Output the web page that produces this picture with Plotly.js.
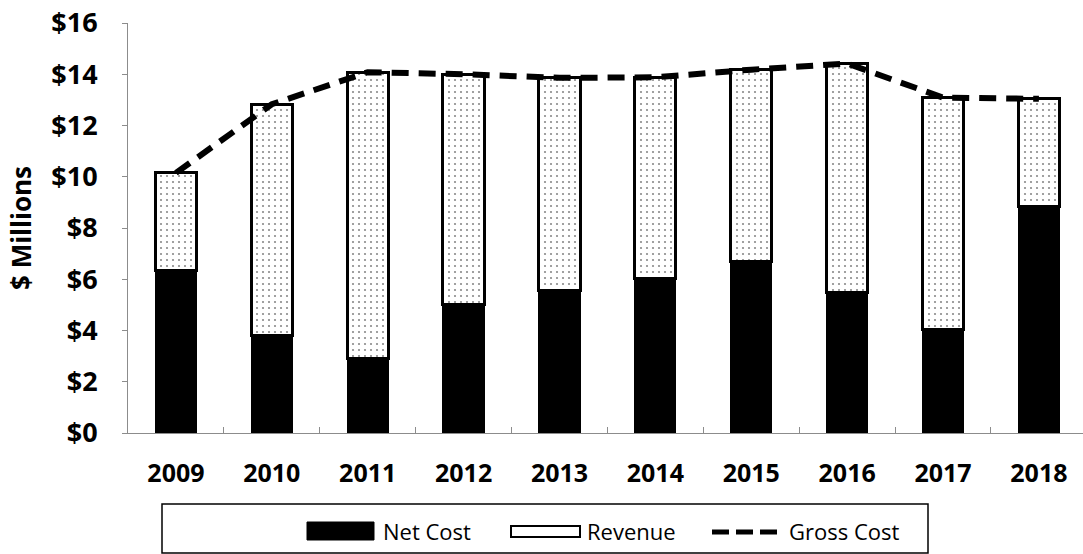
<!DOCTYPE html>
<html>
<head>
<meta charset="utf-8">
<script src="https://cdn.plot.ly/plotly-3.0.1.min.js"></script>
<style>html,body{margin:0;padding:0;background:#fff;}#chart{width:1083px;height:554px;}</style>
</head>
<body>
<div id="chart"></div>
<script>
const years = ['2009','2010','2011','2012','2013','2014','2015','2016','2017','2018'];
const netCost = [6.35, 3.82, 2.92, 5.03, 5.55, 6.03, 6.68, 5.50, 4.04, 8.85];
const revenue = [3.80, 9.01, 11.16, 8.97, 8.31, 7.85, 7.50, 8.92, 9.05, 4.19];
const grossCost = [10.15, 12.83, 14.08, 14.00, 13.86, 13.88, 14.18, 14.42, 13.09, 13.04];
const yTicks = [0, 2, 4, 6, 8, 10, 12, 14, 16];
const seriesNames = ['Net Cost', 'Revenue', 'Gross Cost'];

// plot area in pixels (for placing the hand-drawn legend)
const L = 128, R = 1083, T = 23, B = 433;
const X = px => (px - L) / (R - L);
const Y = py => (B - py) / (B - T);

const FONT = 'Open Sans, Arial, sans-serif';

const traces = [
  {
    type: 'bar', x: years, y: netCost, name: seriesNames[0], width: 0.43,
    marker: {color: '#000', line: {color: '#000', width: 1}},
    showlegend: false
  },
  {
    type: 'bar', x: years, y: revenue, name: seriesNames[1], width: 0.43,
    marker: {
      color: '#fff',
      pattern: {shape: '.', fgcolor: '#8a8a8a', bgcolor: '#fff', size: 6, solidity: 0.1},
      line: {color: '#000', width: 3}
    },
    showlegend: false
  },
  {
    type: 'scatter', mode: 'lines', x: years, y: grossCost, name: seriesNames[2],
    line: {color: '#000', width: 6, dash: '17px,10px'},
    showlegend: false
  }
];

const shapes = [
  {type: 'rect', xref: 'paper', yref: 'paper', x0: X(162), x1: X(928), y0: Y(553), y1: Y(504),
   line: {color: '#000', width: 1.5}, fillcolor: 'rgba(0,0,0,0)'},
  {type: 'rect', xref: 'paper', yref: 'paper', x0: X(307), x1: X(374), y0: Y(540), y1: Y(522),
   line: {color: '#000', width: 1}, fillcolor: '#000'},
  {type: 'rect', xref: 'paper', yref: 'paper', x0: X(511), x1: X(580), y0: Y(537), y1: Y(526),
   line: {color: '#000', width: 2}, fillcolor: '#fff'},
  {type: 'line', xref: 'paper', yref: 'paper', x0: X(712), x1: X(783), y0: Y(532), y1: Y(532),
   line: {color: '#000', width: 5, dash: '17px,7px'}}
];

const legFont = {family: FONT, size: 22, color: '#000'};
const annotations = [
  {xref: 'paper', yref: 'paper', x: X(381), y: Y(531), text: seriesNames[0], showarrow: false, xanchor: 'left', yanchor: 'middle', font: legFont},
  {xref: 'paper', yref: 'paper', x: X(585), y: Y(531), text: seriesNames[1], showarrow: false, xanchor: 'left', yanchor: 'middle', font: legFont},
  {xref: 'paper', yref: 'paper', x: X(787), y: Y(531), text: seriesNames[2], showarrow: false, xanchor: 'left', yanchor: 'middle', font: legFont}
];

const layout = {
  width: 1083, height: 554,
  margin: {l: L, r: 1083 - R, t: T, b: 554 - B, pad: 0},
  paper_bgcolor: '#fff', plot_bgcolor: '#fff',
  barmode: 'stack',
  showlegend: false,
  font: {family: FONT, color: '#000'},
  xaxis: {
    type: 'category', range: [-0.5, 9.46],
    showline: true, linecolor: '#8c8c8c', linewidth: 1,
    ticks: 'inside', tickson: 'boundaries', ticklen: 6, tickcolor: '#8c8c8c',
    showgrid: false, zeroline: false,
    tickfont: {family: FONT, size: 25, weight: 700, color: '#000'},
    ticklabelstandoff: 18, automargin: false
  },
  yaxis: {
    range: [0, 16], tickvals: yTicks, ticktext: yTicks.map(v => '$' + v),
    showline: true, linecolor: '#8c8c8c', linewidth: 1,
    ticks: 'outside', ticklen: 5, tickcolor: '#8c8c8c',
    showgrid: false, zeroline: false,
    tickfont: {family: FONT, size: 27, weight: 700, color: '#000'},
    ticklabelstandoff: 19, automargin: false,
    title: {text: '$ Millions', font: {family: FONT, size: 26, weight: 700, color: '#000'}, standoff: 12}
  },
  shapes: shapes,
  annotations: annotations
};

Plotly.newPlot('chart', traces, layout, {displayModeBar: false, staticPlot: true});
</script>
</body>
</html>
